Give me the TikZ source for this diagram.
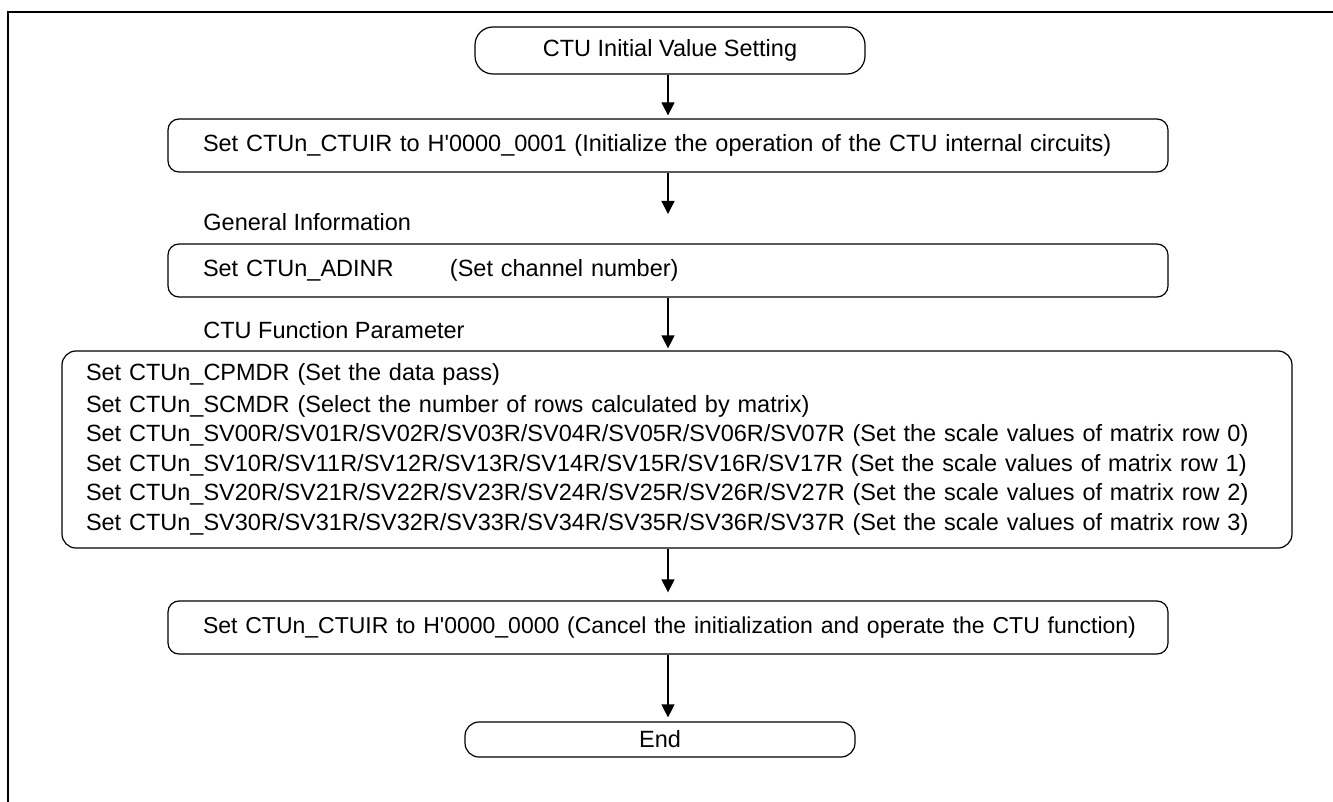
\documentclass[tikz,border=0pt]{standalone}
\usepackage{fontspec}
\setmainfont{Liberation Sans}
\usetikzlibrary{arrows.meta}

\begin{document}
\begin{tikzpicture}[x=0.5pt, y=-0.5pt,
  every node/.style={font=\fontsize{11.75}{14.75}\selectfont},
  terminal/.style={draw, line width=0.6pt, rounded corners=9pt, minimum width=195pt, inner sep=0pt},
  stepbox/.style={draw, line width=0.6pt, rounded corners=5.5pt, text width=465pt,
    inner xsep=17.5pt, minimum height=26.5pt, align=left},
  grouplbl/.style={anchor=west, inner sep=0pt},
  flow/.style={line width=0.6pt, -{Triangle[length=6.5pt, width=6.5pt]}}]

  \useasboundingbox (0,0) rectangle (1333,802);

  % Frame
  \draw[line width=1.15pt] (8,810) -- (8,12) -- (1340,12);

  % Start and first step
  \node[terminal, minimum height=23.5pt] (start) at (670,50.5) {CTU Initial Value Setting};
  \node[stepbox] (init) at (668,145.5)
    {Set CTUn\_CTUIR to H\textquotesingle 0000\_0001 (Initialize the operation of the CTU internal circuits)};

  % General information
  \node[grouplbl] (genlbl) at (203,222) {General Information};
  \coordinate (gi) at (668,214);
  \node[stepbox] (adinr) at (668,270.5)
    {\makebox[123.5pt][l]{Set CTUn\_ADINR}(Set channel number)};

  % CTU function parameter
  \node[grouplbl] (funclbl) at (203,330) {CTU Function Parameter};
  \node[draw, line width=0.6pt, rounded corners=7pt, text width=591pt, inner xsep=12pt,
    minimum height=98.5pt, align=left] (param) at (677,449.5)
    {Set CTUn\_CPMDR (Set the data pass)\\[1pt]
     Set CTUn\_SCMDR (Select the number of rows calculated by matrix)\\
     \makebox[591pt][s]{Set CTUn\_SV00R/SV01R/SV02R/SV03R/SV04R/SV05R/SV06R/SV07R (Set the scale values of matrix row 0)}\\
     \makebox[591pt][s]{Set CTUn\_SV10R/SV11R/SV12R/SV13R/SV14R/SV15R/SV16R/SV17R (Set the scale values of matrix row 1)}\\
     \makebox[591pt][s]{Set CTUn\_SV20R/SV21R/SV22R/SV23R/SV24R/SV25R/SV26R/SV27R (Set the scale values of matrix row 2)}\\
     Set CTUn\_SV30R/SV31R/SV32R/SV33R/SV34R/SV35R/SV36R/SV37R (Set the scale values of matrix row 3)};

  % Last step and end
  \node[stepbox] (done) at (668,627.5)
    {\makebox[465pt][l]{\fontsize{11.5}{14.75}\selectfont Set CTUn\_CTUIR to H\textquotesingle 0000\_0000 (Cancel the initialization and operate the CTU function)}};
  \node[terminal, minimum height=17.5pt, rounded corners=7pt] (finish) at (660,739.5) {End};

  % Arrows
  \draw[flow, shorten >=1.5pt] (start.south -| init.north) -- (init.north);
  \draw[flow] (init.south) -- (gi);
  \draw[flow, shorten >=1pt] (adinr.south) -- (adinr.south |- param.north);
  \draw[flow, shorten >=4pt] (done.north |- param.south) -- (done.north);
  \draw[flow, shorten >=2pt] (done.south) -- (done.south |- finish.north);
\end{tikzpicture}
\end{document}
